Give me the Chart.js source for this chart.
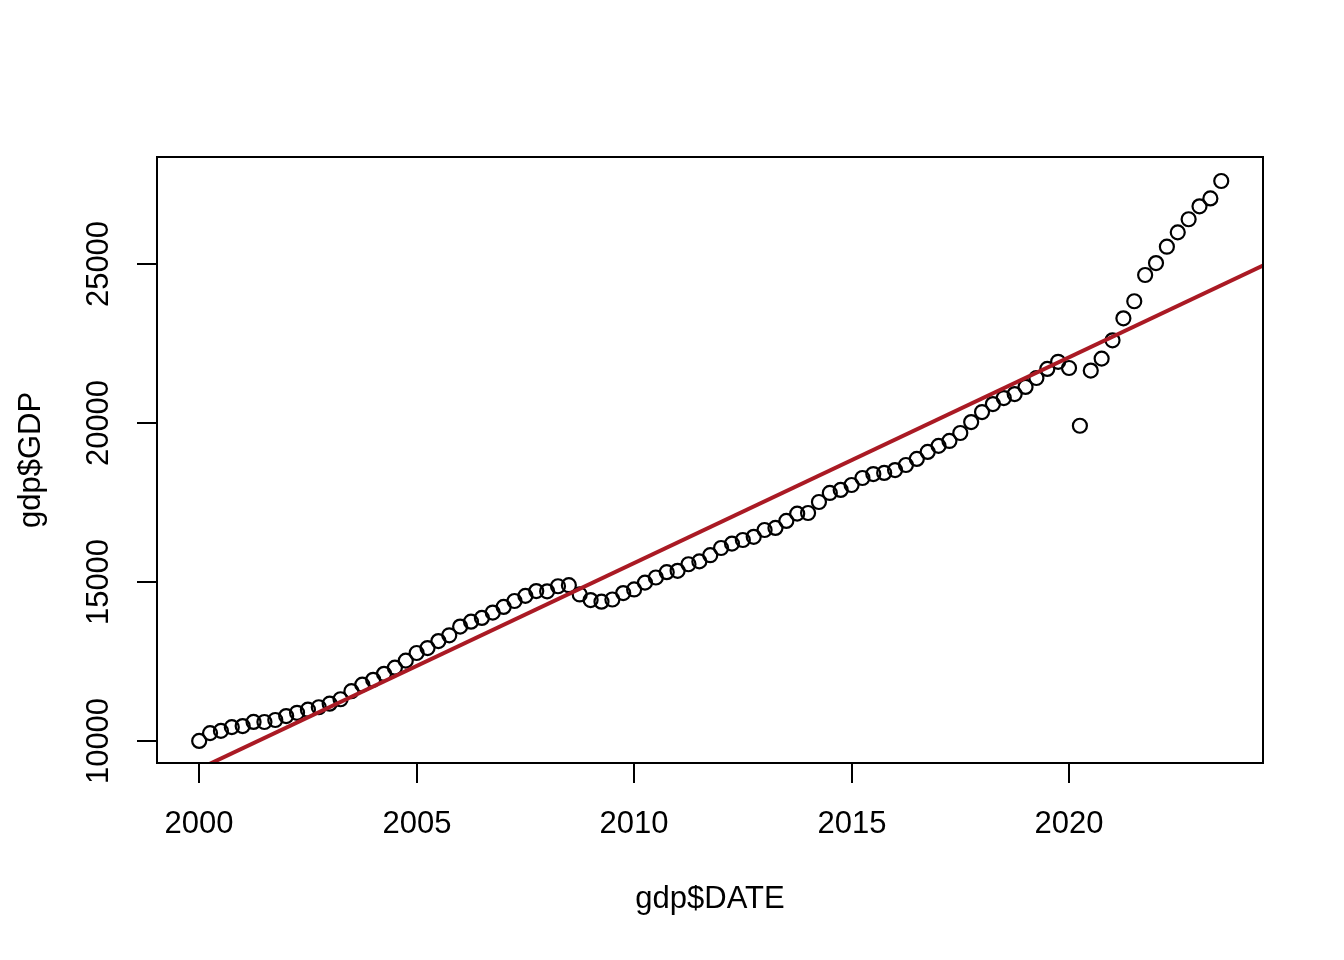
<!DOCTYPE html>
<html>
<head>
<meta charset="utf-8">
<script src="https://cdn.jsdelivr.net/npm/chart.js@4"></script>
<style>
  html, body { margin: 0; padding: 0; background: #fff; }
  #wrap { width: 1344px; height: 960px; }
</style>
</head>
<body>
<div id="wrap"><canvas id="gdpChart" width="1344" height="960"></canvas></div>
<script>
// quarterly GDP, first quarter 2000 Q1
const firstYear = 2000;
const gdp = [
    10002, 10248, 10318, 10436,
    10470, 10599, 10598, 10660,
    10784, 10887, 10984, 11061,
    11174, 11313, 11567, 11772,
    11923, 12113, 12305, 12527,
    12767, 12923, 13143, 13324,
    13599, 13753, 13870, 14040,
    14216, 14402, 14564, 14715,
    14707, 14866, 14899, 14608,
    14431, 14381, 14449, 14651,
    14765, 14980, 15142, 15309,
    15351, 15558, 15648, 15842,
    16069, 16207, 16320, 16420,
    16635, 16700, 16920, 17150,
    17170, 17515, 17800, 17895,
    18050, 18270, 18395, 18430,
    18520, 18680, 18870, 19090,
    19280, 19435, 19685, 20030,
    20345, 20595, 20785, 20910,
    21135, 21415, 21700, 21925,
    21730, 19913, 21648, 22025,
    22600, 23292, 23828, 24655,
    25029, 25544, 25995, 26408,
    26814, 27063, 27610
];
const xTicks = [2000, 2005, 2010, 2015, 2020];
const yTicks = [10000, 15000, 20000, 25000];
const xTitle = 'gdp$DATE';
const yTitle = 'gdp$GDP';

const xMin = 1999.03, xMax = 2024.46;
const yMin = 9308, yMax = 28365;

const points = gdp.map((v, i) => ({ x: firstYear + i / 4, y: v }));

// least squares fit, like lm(GDP ~ DATE)
const n = points.length;
const mx = points.reduce((s, p) => s + p.x, 0) / n;
const my = points.reduce((s, p) => s + p.y, 0) / n;
let sxy = 0, sxx = 0;
points.forEach(p => { sxy += (p.x - mx) * (p.y - my); sxx += (p.x - mx) ** 2; });
const slope = sxy / sxx;
const icept = my - slope * mx;
const fitLine = [xMin, xMax].map(x => ({ x: x, y: icept + slope * x }));

const FONT = '"Liberation Sans", Arial, Helvetica, sans-serif';

// R style box, ticks and labels
const baseAxes = {
    id: 'baseAxes',
    afterDraw(chart) {
        const { ctx, chartArea: a, scales: { x, y } } = chart;
        ctx.save();
        ctx.strokeStyle = '#000';
        ctx.fillStyle = '#000';
        ctx.lineWidth = 2;
        ctx.strokeRect(a.left, a.top, a.right - a.left, a.bottom - a.top);

        ctx.font = '31px ' + FONT;
        ctx.textAlign = 'center';
        ctx.textBaseline = 'alphabetic';
        xTicks.forEach(t => {
            const px = Math.round(x.getPixelForValue(t));
            ctx.beginPath();
            ctx.moveTo(px, a.bottom);
            ctx.lineTo(px, a.bottom + 20);
            ctx.stroke();
            ctx.fillText(String(t), px, 833);
        });
        yTicks.forEach(t => {
            const py = Math.round(y.getPixelForValue(t));
            ctx.beginPath();
            ctx.moveTo(a.left, py);
            ctx.lineTo(a.left - 20, py);
            ctx.stroke();
            ctx.save();
            ctx.translate(108, py);
            ctx.rotate(-Math.PI / 2);
            ctx.fillText(String(t), 0, 0);
            ctx.restore();
        });

        ctx.fillText(xTitle, (a.left + a.right) / 2, 908);
        ctx.save();
        ctx.translate(40, (a.top + a.bottom) / 2);
        ctx.rotate(-Math.PI / 2);
        ctx.fillText(yTitle, 0, 0);
        ctx.restore();
        ctx.restore();
    }
};

new Chart(document.getElementById('gdpChart'), {
    type: 'scatter',
    data: {
        datasets: [
            {
                label: 'GDP',
                data: points,
                pointStyle: 'circle',
                pointRadius: 7,
                pointBorderWidth: 2.2,
                borderColor: '#000',
                backgroundColor: 'rgba(0,0,0,0)',
                order: 2
            },
            {
                type: 'line',
                label: 'fit',
                data: fitLine,
                borderColor: '#AA1A24',
                borderWidth: 4,
                pointRadius: 0,
                fill: false,
                order: 1
            }
        ]
    },
    options: {
        responsive: false,
        animation: false,
        layout: { padding: { left: 157, right: 81, top: 157, bottom: 197 } },
        scales: {
            x: { type: 'linear', min: xMin, max: xMax, display: false },
            y: { type: 'linear', min: yMin, max: yMax, display: false }
        },
        plugins: {
            legend: { display: false },
            tooltip: { enabled: false }
        }
    },
    plugins: [baseAxes]
});
</script>
</body>
</html>
